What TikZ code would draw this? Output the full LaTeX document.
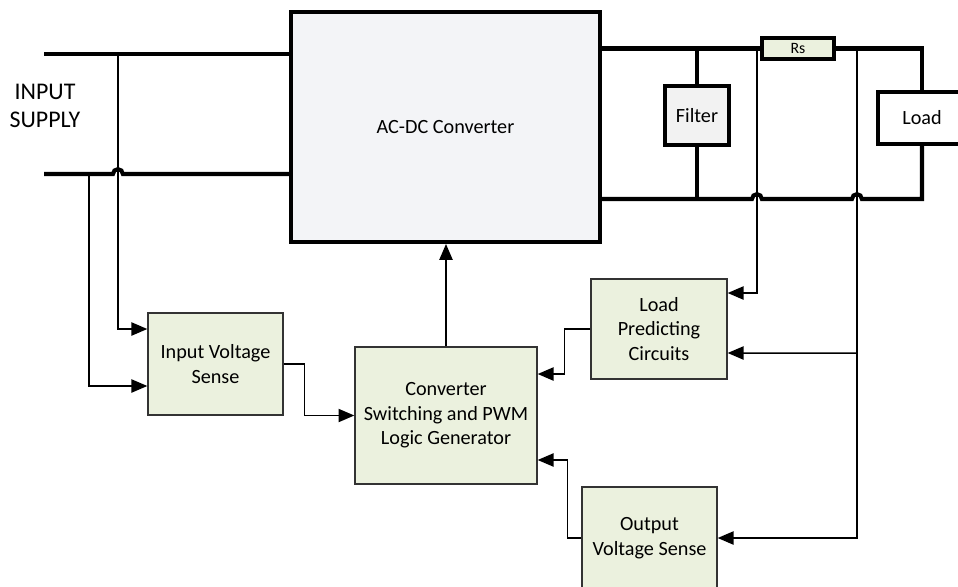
\documentclass[tikz,border=0pt]{standalone}
\usepackage{fontspec}
\setmainfont{Carlito}
\usetikzlibrary{arrows.meta,positioning}
\definecolor{senseg}{HTML}{EBF1DE}
\definecolor{convg}{HTML}{F3F4F7}
\definecolor{filtg}{HTML}{F2F2F2}

\begin{document}
\begin{tikzpicture}[x=0.02cm, y=-0.02cm,
  bus/.style={line width=2.3pt},
  wire/.style={line width=0.85pt},
  sig/.style={wire, -{Triangle[length=9pt,width=7.5pt]}},
  blk/.style={draw=black!80, line width=0.8pt, fill=senseg, align=center,
    inner sep=0pt, font=\fontsize{11.5}{13.9}\selectfont},
  part/.style={draw, line width=2pt, align=center, inner sep=0pt,
    font=\fontsize{11.5}{13.9}\selectfont}]
  % one pixel of the layout is one unit, y runs down
  \clip (0,0) rectangle (958,586);

  \node[part, line width=2.3pt, fill=convg, minimum width=6.18cm, minimum height=4.6cm]
    (conv) at (445.5,127) {AC-DC Converter};
  \node[part, fill=filtg, minimum width=1.28cm, minimum height=1.18cm] (filter) at (697,115.5) {Filter};
  \node[part, fill=white, minimum width=1.76cm, minimum height=1.04cm] (load) at (922,118) {Load};
  \node[part, fill=senseg, minimum width=1.44cm, minimum height=0.42cm,
    font=\fontsize{9}{10}\selectfont] (rs) at (798,48.5) {Rs};
  \node[align=center, font=\fontsize{13.6}{15.9}\selectfont] (supply) at (45,106) {INPUT\\SUPPLY};

  \node[blk, minimum width=2.7cm, minimum height=2.04cm] (ivs) at (215.5,364) {Input Voltage\\Sense};
  \node[blk, minimum width=3.64cm, minimum height=2.74cm] (pwm) at (446,415.5)
    {Converter\\Switching and PWM\\Logic Generator};
  \node[blk, minimum width=2.72cm, minimum height=2cm] (lpc) at (659,329) {Load\\Predicting\\Circuits};
  \node[blk, minimum width=2.7cm, minimum height=2.04cm] (ovs) at (649.5,538) {Output\\Voltage Sense};

  % input side
  \coordinate (inA) at (44,54);
  \coordinate (inB) at (44,174);
  \coordinate (tapA) at (118,54);
  \coordinate (tapB) at (89,174);
  \coordinate (hop1) at (113,174);
  \draw[bus] (inA) -- (inA -| conv.west);
  \draw[bus] (inB) -- (hop1) arc[start angle=180, end angle=0, radius=2.8pt] -- (inB -| conv.west);
  \draw[sig] (tapA) |- ([yshift=0.7cm]ivs.west);
  \draw[sig] (tapB) |- ([yshift=-0.44cm]ivs.west);
  \draw[sig] (ivs.east) -- ++(21,0) |- (pwm.west);
  \draw[sig] (pwm.north) -- (pwm.north |- conv.south);

  % output side
  \coordinate (outA) at (conv.east |- rs.west);
  \coordinate (outB) at (600,199);
  \coordinate (hop2) at (752,199);
  \coordinate (hop3) at (852,199);
  \coordinate (senA) at (757,49);
  \coordinate (senB) at (857,49);
  \draw[bus] (outA) -- (rs.west);
  \draw[bus] (rs.east) -| (load.north);
  \draw[bus] (outB) -- (hop2) arc[start angle=180, end angle=0, radius=2.8pt]
    -- (hop3) arc[start angle=180, end angle=0, radius=2.8pt] -| (load.south);
  \draw[bus] (filter.north) -- (filter.north |- outA);
  \draw[bus] (filter.south) -- (filter.south |- outB);

  % sensing and feedback
  \draw[sig] (senA) |- ([yshift=0.72cm]lpc.east);
  \draw[sig] (senB) |- (ovs.east);
  \draw[sig] (senB |- 0,353) -- ([yshift=-0.48cm]lpc.east);
  \draw[sig] (lpc.west) -- ++(-26,0) |- ([yshift=0.83cm]pwm.east);
  \draw[sig] (ovs.west) -- ++(-14,0) |- ([yshift=-0.89cm]pwm.east);
\end{tikzpicture}
\end{document}
